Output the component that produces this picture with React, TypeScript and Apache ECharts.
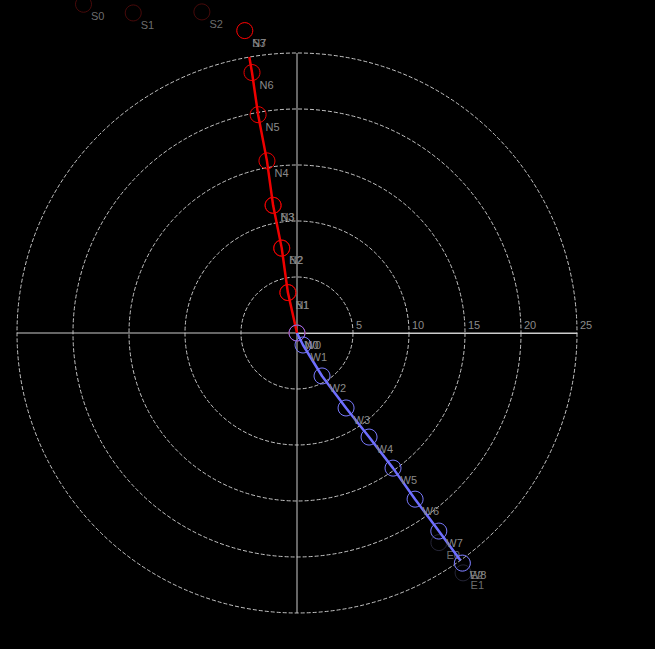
import React, { useEffect, useRef } from "react";
import * as echarts from "echarts";

// Radius-axis ticks
const radiusTicks = [0, 5, 10, 15, 20, 25];

// Red line series "N" : radius, angle (deg, counter-clockwise from east)
const nNames = ["N0", "N1", "N2", "N3", "N4", "N5", "N6", "N7"];
const nRadius = [0, 3.7, 7.7, 11.6, 15.6, 19.8, 23.6, 27.4];
const nAngle = [100, 102.7, 100.2, 100.6, 99.9, 100.1, 99.8, 99.8];

// Red points "B"
const bNames = ["B1", "B2", "B3"];
const bRadius = [3.7, 7.7, 11.6];
const bAngle = [102.7, 100.2, 100.6];

// Faded red points "S"
const sNames = ["S0", "S1", "S2", "S3"];
const sRadius = [35.0, 32.1, 29.9, 27.4];
const sAngle = [123.0, 117.1, 106.5, 99.8];

// Blue line series "W"
const wNames = ["W0", "W1", "W2", "W3", "W4", "W5", "W6", "W7", "W8"];
const wRadius = [0, 1.2, 4.44, 8.0, 11.3, 14.8, 18.2, 21.75, 25.3];
const wAngle = [-60, -63.4, -59.8, -56.8, -55.3, -54.6, -54.6, -54.4, -54.3];

// Faded blue points "E"
const eNames = ["E0", "E1", "E2"];
const eRadius = [22.6, 26.05, 25.3];
const eAngle = [-55.9, -55.3, -54.3];

const build = (names: string[], r: number[], a: number[]) =>
  names.map((n, i) => ({ name: n, value: [r[i], a[i]] }));

const labelCfg = {
  show: true,
  position: [16, 15] as any,
  formatter: "{b}",
  color: "#8a8a8a",
  fontSize: 11,
  fontFamily: "Liberation Sans, Arial, sans-serif",
};

const ring = (c: string) => ({ color: "transparent", borderColor: c, borderWidth: 1 });

export default function App() {
  const ref = useRef<HTMLDivElement>(null);
  useEffect(() => {
    if (!ref.current) return;
    const chart = echarts.init(ref.current, null, { renderer: "svg" });
    chart.setOption({
      animation: false,
      backgroundColor: "#000",
      polar: { center: [297, 333], radius: 280 },
      angleAxis: {
        type: "value",
        min: 0,
        max: 360,
        interval: 90,
        startAngle: 0,
        clockwise: false,
        axisLine: { show: false },
        axisTick: { show: false },
        axisLabel: { show: false },
        splitLine: { show: true, lineStyle: { color: "#cccccc", width: 1, type: "solid" } },
      },
      radiusAxis: {
        type: "value",
        min: radiusTicks[0],
        max: radiusTicks[radiusTicks.length - 1],
        interval: 5,
        axisLine: { show: true, lineStyle: { color: "#cccccc", width: 1 } },
        axisTick: { show: false },
        axisLabel: {
          show: true,
          color: "#8a8a8a",
          fontSize: 11,
          fontFamily: "Liberation Sans, Arial, sans-serif",
          align: "left",
          verticalAlign: "bottom",
          margin: 2,
          padding: [0, 0, 1, 3],
          formatter: (v: number) => (v === 0 ? "" : String(v)),
        },
        splitLine: { show: true, lineStyle: { color: "#c4c4c4", width: 1, type: "dashed" } },
      },
      series: [
        {
          type: "scatter",
          coordinateSystem: "polar",
          data: build(sNames, sRadius, sAngle),
          symbol: "circle",
          symbolSize: 16,
          itemStyle: ring("#5a0c0c"),
          label: labelCfg,
          clip: false,
          z: 2,
        },
        {
          type: "line",
          coordinateSystem: "polar",
          data: build(nNames, nRadius, nAngle),
          symbol: "circle",
          symbolSize: 16,
          showSymbol: true,
          lineStyle: { color: "#ee0000", width: 2.5 },
          itemStyle: ring("#ee0000"),
          label: labelCfg,
          clip: false,
          z: 3,
        },
        {
          type: "scatter",
          coordinateSystem: "polar",
          data: build(bNames, bRadius, bAngle),
          symbol: "circle",
          symbolSize: 16,
          itemStyle: ring("#ee0000"),
          label: labelCfg,
          clip: false,
          z: 3,
        },
        {
          type: "scatter",
          coordinateSystem: "polar",
          data: build(eNames, eRadius, eAngle),
          symbol: "circle",
          symbolSize: 16,
          itemStyle: ring("#2e2e44"),
          label: labelCfg,
          clip: false,
          z: 4,
        },
        {
          type: "line",
          coordinateSystem: "polar",
          data: build(wNames, wRadius, wAngle),
          symbol: "circle",
          symbolSize: 16,
          showSymbol: true,
          lineStyle: { color: "#6e6eff", width: 2.5 },
          itemStyle: ring("#7a7aff"),
          label: labelCfg,
          clip: false,
          z: 5,
        },
      ],
    });
    return () => chart.dispose();
  }, []);
  return (
    <div
      ref={ref}
      style={{ position: "fixed", left: 0, top: 0, width: 655, height: 649, background: "#000" }}
    />
  );
}
